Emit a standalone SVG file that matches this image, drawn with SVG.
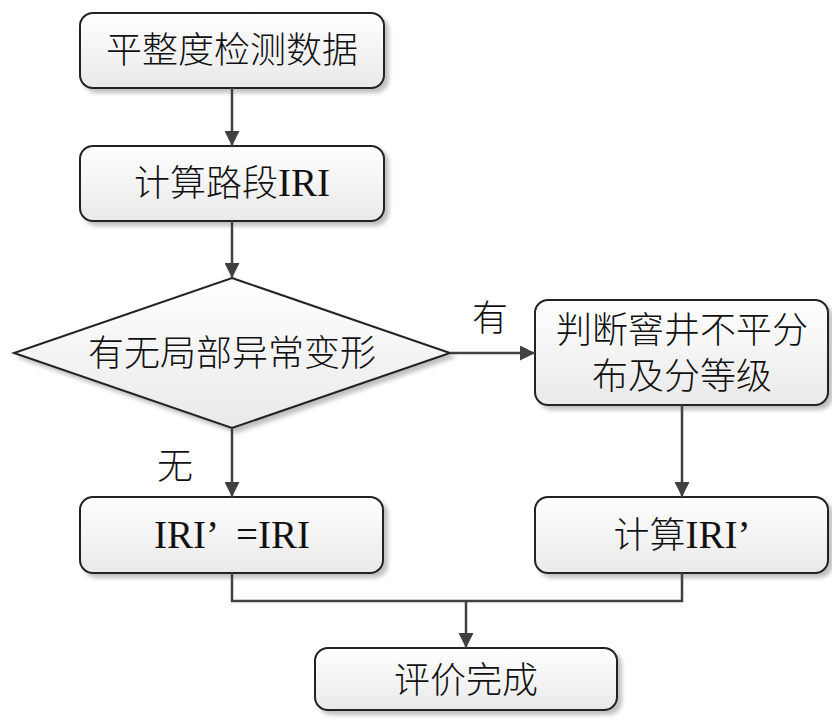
<svg xmlns="http://www.w3.org/2000/svg" width="832" height="722" viewBox="0 0 832 722">
<defs>
<linearGradient id="g" x1="0" y1="0" x2="0" y2="1">
<stop offset="0" stop-color="#ffffff"/>
<stop offset="1" stop-color="#e9e9e9"/>
</linearGradient>
<marker id="arr" viewBox="0 0 10 10" refX="10" refY="5" markerWidth="6" markerHeight="6" markerUnits="strokeWidth" orient="auto">
<path d="M0,0 L10,5 L0,10 z" fill="#404040"/>
</marker>
<filter id="sh" x="-10%" y="-10%" width="130%" height="140%">
<feGaussianBlur in="SourceAlpha" stdDeviation="2"/>
<feOffset dx="4" dy="4"/>
<feComponentTransfer><feFuncA type="linear" slope="0.25"/></feComponentTransfer>
<feMerge><feMergeNode/><feMergeNode in="SourceGraphic"/></feMerge>
</filter>
</defs>
<style>
.n{fill:url(#g);stroke:#222;stroke-width:2;filter:url(#sh)}
.t{font-family:"Liberation Serif","Noto Sans CJK SC",serif;font-size:36px;font-weight:300;fill:#111;text-anchor:middle}
.l{font-size:39px}
.c{fill:none;stroke:#404040;stroke-width:2.5}
</style>
<g id="n1"><rect class="n" x="80" y="13" width="304" height="75" rx="13"/><text class="t" x="232" y="63">平整度检测数据</text></g>
<g id="n2"><rect class="n" x="80" y="146" width="304" height="75" rx="13"/><text class="t" x="232" y="196">计算路段<tspan class="l">IRI</tspan></text></g>
<g id="n3"><polygon class="n" points="232,278 450,353 232,428 14,353"/><text class="t" x="232" y="366">有无局部异常变形</text></g>
<g id="n4"><rect class="n" x="535" y="300" width="293" height="105" rx="13"/><text class="t" x="682" y="343">判断窨井不平分</text><text class="t" x="682" y="389">布及分等级</text></g>
<g id="n5"><rect class="n" x="80" y="497" width="303" height="76" rx="13"/><text class="t l" x="232" y="548">IRI’ <tspan dx="10">=IRI</tspan></text></g>
<g id="n6"><rect class="n" x="535" y="497" width="293" height="76" rx="13"/><text class="t" x="682" y="548">计算<tspan class="l">IRI’</tspan></text></g>
<g id="n7"><rect class="n" x="315" y="648" width="302" height="62" rx="13"/><text class="t" x="466" y="693">评价完成</text></g>
<g id="connectors">
<line class="c" x1="232" y1="88" x2="232" y2="146" marker-end="url(#arr)"/>
<line class="c" x1="232" y1="221" x2="232" y2="278" marker-end="url(#arr)"/>
<line class="c" x1="450" y1="353" x2="535" y2="353" marker-end="url(#arr)"/>
<line class="c" x1="232" y1="428" x2="232" y2="497" marker-end="url(#arr)"/>
<line class="c" x1="682" y1="405" x2="682" y2="497" marker-end="url(#arr)"/>
<polyline class="c" points="232,573 232,601 682,601 682,573"/>
<line class="c" x1="466" y1="601" x2="466" y2="648" marker-end="url(#arr)"/>
<text class="t" x="490" y="331">有</text>
<text class="t" x="175" y="479">无</text>
</g>
</svg>
